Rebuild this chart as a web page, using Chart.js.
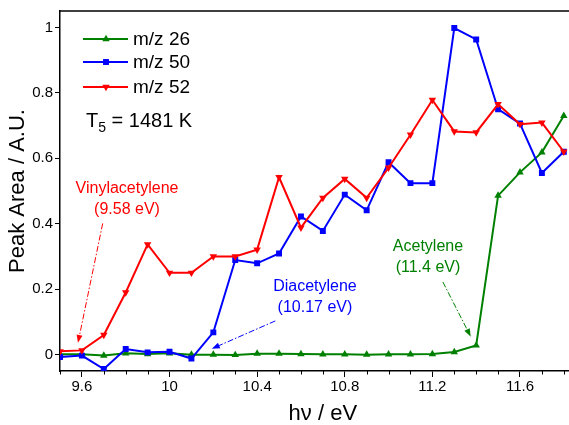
<!DOCTYPE html>
<html>
<head>
<meta charset="utf-8">
<script src="https://cdn.jsdelivr.net/npm/chart.js@4.4.0/dist/chart.umd.min.js"></script>
<style>
  html, body { margin: 0; padding: 0; background: #fff; overflow: hidden; width: 569px; height: 425px; }
  canvas { display: block; }
</style>
</head>
<body>
<canvas id="grafico" width="590" height="425"></canvas>
<script>
// energía del fotón (eV)
const energias = [9.5, 9.6, 9.7, 9.8, 9.9, 10.0, 10.1, 10.2, 10.3, 10.4, 10.5, 10.6,
                  10.7, 10.8, 10.9, 11.0, 11.1, 11.2, 11.3, 11.4, 11.5, 11.6, 11.7, 11.8];
const mz26 = [0.001, 0.001, -0.003, 0.004, 0.002, 0.004, 0.0, 0.0, -0.001, 0.003, 0.003, 0.002,
              0.001, 0.001, 0.0, 0.001, 0.001, 0.002, 0.008, 0.028, 0.486, 0.557, 0.618, 0.73];
const mz50 = [-0.007, -0.003, -0.044, 0.017, 0.007, 0.009, -0.012, 0.068, 0.289, 0.279, 0.309, 0.422,
              0.378, 0.489, 0.441, 0.588, 0.524, 0.524, 0.998, 0.963, 0.75, 0.706, 0.555, 0.62];
const mz52 = [0.01, 0.013, 0.06, 0.19, 0.337, 0.25, 0.25, 0.30, 0.30, 0.321, 0.542, 0.388,
              0.479, 0.537, 0.479, 0.571, 0.672, 0.778, 0.682, 0.679, 0.765, 0.704, 0.709, 0.62];

const ticksX = [9.6, 10, 10.4, 10.8, 11.2, 11.6];
const ticksMenoresX = [9.5, 9.7, 9.8, 9.9, 10.1, 10.2, 10.3, 10.5, 10.6, 10.7, 10.9, 11.0,
                       11.1, 11.3, 11.4, 11.5, 11.7, 11.8, 11.9];
const ticksY = [0, 0.2, 0.4, 0.6, 0.8, 1];

// anotaciones en coordenadas de datos
const anotaciones = [
  { lineas: ["Vinylacetylene", "(9.58 eV)"], color: "#ff0000", x: 9.806, y: [0.508, 0.444],
    desde: [9.695, 0.401], hasta: [9.582, 0.036] },
  { lineas: ["Diacetylene", "(10.17 eV)"], color: "#0000ff", x: 10.664, y: [0.207, 0.143],
    desde: [10.483, 0.103], hasta: [10.193, 0.018] },
  { lineas: ["Acetylene", "(11.4 eV)"], color: "#008000", x: 11.18, y: [0.331, 0.267],
    desde: [11.248, 0.222], hasta: [11.375, 0.055] }
];

const fuente = "'Liberation Sans', Arial, sans-serif";

function serie(nombre, valores, color, estilo, rotacion, radio, orden) {
  return {
    label: nombre,
    data: energias.map((e, i) => ({ x: e, y: valores[i] })),
    borderColor: color,
    backgroundColor: color,
    borderWidth: 2,
    pointStyle: estilo,
    rotation: rotacion,
    pointRadius: radio,
    pointBorderWidth: 0,
    pointHoverRadius: radio,
    tension: 0,
    order: orden
  };
}

function marcador(ctx, estilo, x, y, r, color) {
  ctx.fillStyle = color;
  ctx.beginPath();
  if (estilo === "rect") {
    const s = r * Math.SQRT2 / 2;
    ctx.rect(x - s, y - s, 2 * s, 2 * s);
  } else {
    const dir = estilo === "down" ? -1 : 1;
    ctx.moveTo(x, y - dir * r);
    ctx.lineTo(x - r * 0.866, y + dir * r * 0.5);
    ctx.lineTo(x + r * 0.866, y + dir * r * 0.5);
    ctx.closePath();
  }
  ctx.fill();
}

const extras = {
  id: "extras",
  afterDraw(chart) {
    const ctx = chart.ctx;
    const a = chart.chartArea;
    const sx = chart.scales.x, sy = chart.scales.y;
    ctx.save();

    // borde superior
    ctx.strokeStyle = "#000";
    ctx.lineWidth = 1.5;
    ctx.beginPath();
    ctx.moveTo(a.left - 0.75, a.top);
    ctx.lineTo(a.right, a.top);
    ctx.stroke();

    // ticks menores del eje x
    ctx.lineWidth = 1;
    ctx.beginPath();
    ticksMenoresX.forEach(v => {
      const px = Math.round(sx.getPixelForValue(v)) + 0.5;
      ctx.moveTo(px, a.bottom);
      ctx.lineTo(px, a.bottom + 3.5);
    });
    ctx.stroke();

    // leyenda
    const filas = [
      { t: "m/z 26", c: "#008000", e: "up", r: 4.3 },
      { t: "m/z 50", c: "#0000ff", e: "rect", r: 4.2 },
      { t: "m/z 52", c: "#ff0000", e: "down", r: 4.3 }
    ];
    const ly = [39, 62, 87];
    ctx.font = "19px " + fuente;
    ctx.textBaseline = "middle";
    ctx.textAlign = "left";
    filas.forEach((f, i) => {
      ctx.strokeStyle = f.c;
      ctx.lineWidth = 2;
      ctx.beginPath();
      ctx.moveTo(83, ly[i]);
      ctx.lineTo(128, ly[i]);
      ctx.stroke();
      marcador(ctx, f.e, 106, ly[i], f.r, f.c);
      ctx.fillStyle = "#000";
      ctx.fillText(f.t, 133, ly[i] + 1);
    });

    // temperatura
    ctx.fillStyle = "#000";
    ctx.font = "20px " + fuente;
    ctx.fillText("T", 86, 121);
    let w = ctx.measureText("T").width;
    ctx.font = "14px " + fuente;
    ctx.fillText("5", 86 + w, 128);
    w += ctx.measureText("5").width;
    ctx.font = "20px " + fuente;
    ctx.fillText(" = 1481 K", 86 + w, 121);

    // anotaciones con flechas
    anotaciones.forEach(n => {
      ctx.fillStyle = n.color;
      ctx.font = "16px " + fuente;
      ctx.textAlign = "center";
      n.lineas.forEach((t, i) => {
        ctx.fillText(t, sx.getPixelForValue(n.x), sy.getPixelForValue(n.y[i]));
      });
      const x1 = sx.getPixelForValue(n.desde[0]), y1 = sy.getPixelForValue(n.desde[1]);
      const x2 = sx.getPixelForValue(n.hasta[0]), y2 = sy.getPixelForValue(n.hasta[1]);
      const ang = Math.atan2(y2 - y1, x2 - x1);
      const L = 8, W = 3;
      const bx = x2 - L * Math.cos(ang), by = y2 - L * Math.sin(ang);
      ctx.strokeStyle = n.color;
      ctx.lineWidth = 1;
      ctx.setLineDash([6, 2, 1.5, 2]);
      ctx.beginPath();
      ctx.moveTo(x1, y1);
      ctx.lineTo(bx, by);
      ctx.stroke();
      ctx.setLineDash([]);
      ctx.beginPath();
      ctx.moveTo(x2, y2);
      ctx.lineTo(bx + W * Math.sin(ang), by - W * Math.cos(ang));
      ctx.lineTo(bx - W * Math.sin(ang), by + W * Math.cos(ang));
      ctx.closePath();
      ctx.fill();
    });

    ctx.restore();
  }
};

new Chart(document.getElementById("grafico"), {
  type: "line",
  data: {
    datasets: [
      serie("m/z 26", mz26, "#008000", "triangle", 0, 4.3, 2),
      serie("m/z 50", mz50, "#0000ff", "rect", 0, 4.2, 1),
      serie("m/z 52", mz52, "#ff0000", "triangle", 180, 4.3, 0)
    ]
  },
  options: {
    responsive: false,
    animation: false,
    layout: { padding: { top: 10, left: 0, right: 0, bottom: 0 } },
    plugins: { legend: { display: false }, tooltip: { enabled: false } },
    scales: {
      x: {
        type: "linear",
        min: 9.5,
        max: 11.9,
        afterFit: s => { s.height = 54; },
        afterBuildTicks: s => { s.ticks = ticksX.map(v => ({ value: v })); },
        border: { color: "#000", width: 1.5 },
        grid: { drawOnChartArea: false, color: "#000", tickLength: 6, tickWidth: 1 },
        ticks: { color: "#000", font: { family: fuente, size: 15 }, padding: 1, maxRotation: 0,
                 callback: v => String(Math.round(v * 10) / 10) },
        title: { display: true, text: "hν / eV", color: "#000",
                 font: { family: fuente, size: 22, lineHeight: 1 }, padding: { top: 0, bottom: 0 } }
      },
      y: {
        min: -0.05,
        max: 1.05,
        afterFit: s => { s.width = 60; },
        afterBuildTicks: s => { s.ticks = ticksY.map(v => ({ value: v })); },
        border: { color: "#000", width: 1.5 },
        grid: { drawOnChartArea: false, color: "#000", tickLength: 5, tickWidth: 1 },
        ticks: { color: "#000", font: { family: fuente, size: 15 }, padding: 2,
                 callback: v => String(Math.round(v * 10) / 10) },
        title: { display: true, text: "Peak Area / A.U.", color: "#000",
                 font: { family: fuente, size: 22, lineHeight: 1 }, padding: { top: 7, bottom: 0 } }
      }
    }
  },
  plugins: [extras]
});
</script>
</body>
</html>
